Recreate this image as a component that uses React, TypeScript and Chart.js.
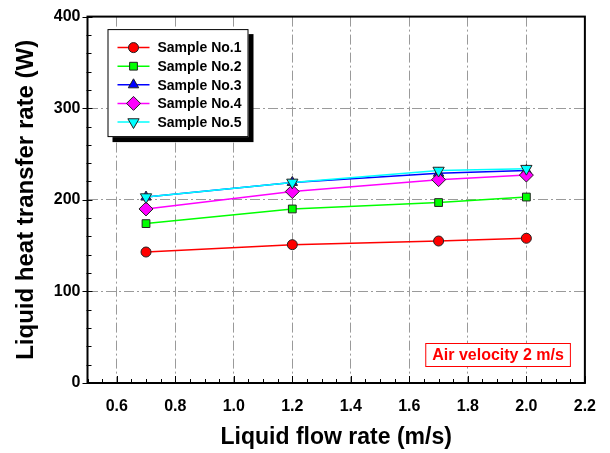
import React, { useEffect, useRef } from 'react';
import { Chart, registerables } from 'chart.js';
import { drawPoint } from 'chart.js/helpers';

Chart.register(...registerables);

// ---- Data ----
const flowRates = [0.7, 1.2, 1.7, 2.0];
const sampleNames = ['Sample No.1', 'Sample No.2', 'Sample No.3', 'Sample No.4', 'Sample No.5'];
const sample1 = [143, 151, 155, 158];
const sample2 = [174, 190, 197, 203];
const sample3 = [203, 219, 229, 232];
const sample4 = [190, 209, 222, 227];
const sample5 = [203, 219, 232, 234];
const xTickValues = [0.6, 0.8, 1.0, 1.2, 1.4, 1.6, 1.8, 2.0, 2.2];
const yTickValues = [0, 100, 200, 300, 400];
const xMinorStep = 0.05;
const yMinorStep = 20;
const xTitle = 'Liquid flow rate (m/s)';
const yTitle = 'Liquid heat transfer rate (W)';
const annotationText = 'Air velocity 2 m/s';

// ---- Styles ----
const seriesValues = [sample1, sample2, sample3, sample4, sample5];
const seriesStyles = [
  { color: '#ff0000', pointStyle: 'circle', radius: 5, rotation: 0 },
  { color: '#00ff00', pointStyle: 'rect', radius: 5.5, rotation: 0 },
  { color: '#0000ff', pointStyle: 'triangle', radius: 6, rotation: 0 },
  { color: '#ff00ff', pointStyle: 'rectRot', radius: 7, rotation: 0 },
  { color: '#00ffff', pointStyle: 'triangle', radius: 6.5, rotation: 180 },
];
const FONT = '"Liberation Sans", Arial, Helvetica, sans-serif';

const framePlugin = {
  id: 'frameTicks',
  beforeDatasetsDraw(chart: any) {
    const { ctx, chartArea } = chart;
    const xs = chart.scales.x;
    const ys = chart.scales.y;
    ctx.save();
    ctx.strokeStyle = '#000';
    ctx.lineWidth = 1;
    const nX = Math.round((xs.max - xs.min) / xMinorStep);
    for (let i = 0; i <= nX; i++) {
      const v = xs.min + i * xMinorStep;
      const isMajor = xTickValues.some((t) => Math.abs(t - v) < 1e-6);
      const px = Math.round(xs.getPixelForValue(v)) + 0.5;
      const len = isMajor ? 7 : 4;
      ctx.beginPath();
      ctx.moveTo(px, chartArea.bottom);
      ctx.lineTo(px, chartArea.bottom - len);
      ctx.stroke();
    }
    const nY = Math.round((ys.max - ys.min) / yMinorStep);
    for (let i = 0; i <= nY; i++) {
      const v = ys.min + i * yMinorStep;
      const isMajor = yTickValues.some((t) => Math.abs(t - v) < 1e-6);
      const py = Math.round(ys.getPixelForValue(v)) + 0.5;
      ctx.beginPath();
      if (isMajor) {
        ctx.moveTo(chartArea.left - 5, py);
        ctx.lineTo(chartArea.left + 5, py);
      } else {
        ctx.moveTo(chartArea.left - 1, py);
        ctx.lineTo(chartArea.left + 4, py);
      }
      ctx.stroke();
    }
    ctx.lineWidth = 2;
    ctx.strokeRect(chartArea.left, chartArea.top, chartArea.right - chartArea.left, chartArea.bottom - chartArea.top);
    ctx.restore();
  },
  afterDraw(chart: any) {
    const { ctx, chartArea } = chart;
    ctx.save();
    // legend
    const bx = chartArea.left + 20;
    const by = chartArea.top + 12.5;
    const bw = 141;
    const bh = 108;
    ctx.fillStyle = '#000';
    ctx.fillRect(bx + 5, by + 5, bw, bh);
    ctx.fillStyle = '#fff';
    ctx.fillRect(bx, by, bw, bh);
    ctx.strokeStyle = '#000';
    ctx.lineWidth = 1;
    ctx.strokeRect(bx + 0.5, by + 0.5, bw - 1, bh - 1);
    ctx.font = `bold 14px ${FONT}`;
    ctx.textBaseline = 'middle';
    ctx.textAlign = 'left';
    chart.data.datasets.forEach((ds: any, i: number) => {
      const st = seriesStyles[i];
      const y = by + 18.5 + i * 18.6;
      ctx.strokeStyle = st.color;
      ctx.lineWidth = 1.5;
      ctx.beginPath();
      ctx.moveTo(bx + 10, y);
      ctx.lineTo(bx + 42, y);
      ctx.stroke();
      ctx.fillStyle = st.color;
      ctx.strokeStyle = '#222';
      ctx.lineWidth = 1;
      drawPoint(ctx, { pointStyle: st.pointStyle, rotation: st.rotation, radius: st.radius, borderWidth: 1 } as any, bx + 26, y);
      ctx.fillStyle = '#000';
      ctx.fillText(ds.label, bx + 50, y + 1);
    });
    // annotation
    ctx.font = `bold 16px ${FONT}`;
    const tw = ctx.measureText(annotationText).width;
    const aw = tw + 14;
    const ah = 24;
    const ax = chartArea.right - 14 - aw;
    const ay = chartArea.bottom - 16 - ah;
    ctx.fillStyle = '#fff';
    ctx.fillRect(ax, ay, aw, ah);
    ctx.strokeStyle = '#ff0000';
    ctx.lineWidth = 1;
    ctx.strokeRect(ax + 0.5, ay + 0.5, aw - 1, ah - 1);
    ctx.fillStyle = '#ff0000';
    ctx.textAlign = 'center';
    ctx.textBaseline = 'middle';
    ctx.fillText(annotationText, ax + aw / 2, ay + ah / 2 + 1);
    ctx.restore();
  },
};

export default function App() {
  const ref = useRef<HTMLCanvasElement | null>(null);
  useEffect(() => {
    if (!ref.current) return;
    const datasets = seriesValues.map((vals, i) => ({
      label: sampleNames[i],
      data: flowRates.map((x, j) => ({ x, y: vals[j] })),
      borderColor: seriesStyles[i].color,
      backgroundColor: seriesStyles[i].color,
      borderWidth: 1.5,
      pointStyle: seriesStyles[i].pointStyle,
      pointRotation: seriesStyles[i].rotation,
      pointRadius: seriesStyles[i].radius,
      pointBackgroundColor: seriesStyles[i].color,
      pointBorderColor: '#222',
      pointBorderWidth: 1,
      tension: 0,
      order: seriesValues.length - 1 - i,
    }));
    const edgeTransparent = (min: number, max: number) => (c: any) => {
      const v = c.tick ? c.tick.value : null;
      if (v === null || Math.abs(v - min) < 1e-6 || Math.abs(v - max) < 1e-6) return 'rgba(0,0,0,0)';
      return '#9a9a9a';
    };
    const chart = new Chart(ref.current, {
      type: 'line',
      data: { datasets: datasets as any },
      options: {
        animation: false,
        responsive: false,
        maintainAspectRatio: false,
        layout: { padding: { top: 15, right: 24.5, bottom: 0, left: 0 } },
        plugins: { legend: { display: false }, tooltip: { enabled: false } },
        scales: {
          x: {
            type: 'linear',
            min: 0.5,
            max: 2.2,
            afterBuildTicks: (s: any) => {
              s.ticks = xTickValues.map((v) => ({ value: v }));
            },
            afterFit: (s: any) => {
              s.height = 70;
            },
            ticks: {
              autoSkip: false,
              maxRotation: 0,
              padding: 14,
              color: '#000',
              font: { family: FONT, size: 16, weight: 'bold' },
              callback: (v: any) => Number(v).toFixed(1),
            },
            grid: { color: edgeTransparent(0.5, 2.2), drawTicks: false, lineWidth: 1 },
            border: { display: false, dash: [10, 3, 2, 3] },
            title: {
              display: true,
              text: xTitle,
              color: '#000',
              font: { family: FONT, size: 23, weight: 'bold' },
              padding: { top: 0, bottom: 2 },
            },
          },
          y: {
            type: 'linear',
            min: 0,
            max: 400,
            afterBuildTicks: (s: any) => {
              s.ticks = yTickValues.map((v) => ({ value: v }));
            },
            afterFit: (s: any) => {
              s.width = 87.5;
            },
            ticks: {
              padding: 7,
              color: '#000',
              font: { family: FONT, size: 16, weight: 'bold' },
            },
            grid: { color: edgeTransparent(0, 400), drawTicks: false, lineWidth: 1 },
            border: { display: false, dash: [10, 3, 2, 3] },
            title: {
              display: true,
              text: yTitle,
              color: '#000',
              font: { family: FONT, size: 24, weight: 'bold' },
              padding: { top: 12, bottom: 0 },
            },
          },
        },
      } as any,
      plugins: [framePlugin],
    });
    return () => chart.destroy();
  }, []);
  return (
    <div style={{ position: 'fixed', left: 0, top: 0, width: 610, height: 453, background: '#fff' }}>
      <canvas ref={ref} width={610} height={453} />
    </div>
  );
}
